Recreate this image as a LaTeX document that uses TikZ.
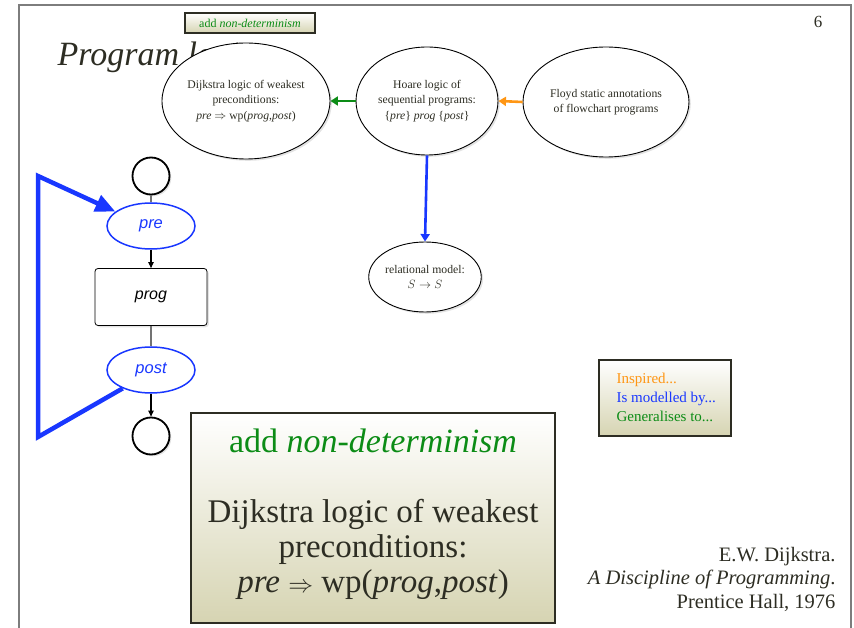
\documentclass[tikz,border=0pt]{standalone}
\usepackage{fontspec}
\setmainfont{Liberation Serif}
\setsansfont{Liberation Sans}
\usetikzlibrary{shapes.geometric,arrows.meta,shadows}

\definecolor{inkblue}{RGB}{25,55,255}
\definecolor{inkgreen}{RGB}{12,140,22}
\definecolor{inkorange}{RGB}{255,150,20}
\definecolor{olive}{RGB}{45,45,35}
\definecolor{beige}{RGB}{214,212,178}
\definecolor{framegray}{RGB}{125,125,125}

\tikzset{
  softshadow/.style={drop shadow={opacity=0.22, shadow xshift=1.8pt, shadow yshift=-1.8pt}},
  bubble/.style={ellipse, draw=black, line width=0.9pt, fill=white, inner sep=0pt,
    align=center, font=\fontsize{11.7}{15.5}\selectfont, text=olive, softshadow},
  cond/.style={ellipse, draw=inkblue, line width=1.5pt, fill=white, inner sep=0pt,
    minimum width=88pt, minimum height=46pt, text=inkblue,
    font=\sffamily\itshape\fontsize{16.5}{18}\selectfont},
  terminal/.style={circle, draw=black, line width=1.8pt, fill=white, minimum size=37pt,
    inner sep=0pt, softshadow},
  notebox/.style={rectangle, draw=olive, line width=2pt, top color=white, bottom color=beige,
    inner sep=0pt},
  relation/.style={line width=2.6pt, -{Triangle[length=7.5pt,width=9pt]}},
  flowline/.style={line width=1.2pt, draw=black!55},
  flowarrow/.style={line width=1.1pt, draw=black, -{Triangle[length=6pt,width=5.5pt]}},
}

\begin{document}
\begin{tikzpicture}[x=1pt,y=-1pt]
\useasboundingbox (0,0) rectangle (854,628);

% slide frame, open at the bottom
\draw[framegray, line width=1.5pt] (19,628) -- (19,5) -- (851,5) -- (851,628);

% page number and title
\node[anchor=base, font=\fontsize{17}{17}\selectfont, text=olive] (pagenum) at (818,28) {6};
\node[anchor=base west, font=\fontsize{34}{34}\selectfont\itshape, text=olive] (title) at (54,66) {Program logic};

% small caption box
\node[notebox, minimum width=130pt, minimum height=20pt, text=inkgreen,
      font=\fontsize{12}{12}\selectfont] (caption) at (250,23) {add \textit{non-determinism}};

% the logics
\node[bubble, minimum width=168pt, minimum height=116pt] (dijk) at (246,101)
  {Dijkstra logic of weakest\\ preconditions:\\ \textit{pre} $\Rightarrow$ wp(\textit{prog},\textit{post})};
\node[bubble, minimum width=142pt, minimum height=108pt] (hoare) at (427,101)
  {Hoare logic of\\ sequential programs:\\ \{\textit{pre}\} \textit{prog} \{\textit{post}\}};
\node[bubble, minimum width=166pt, minimum height=110pt] (floyd) at (606,102)
  {Floyd static annotations\\ of flowchart programs};
\node[bubble, minimum width=106pt, minimum height=70pt] (rel) at (425,277)
  {relational model:\\ $S\rightarrow S$};

\draw[relation, inkgreen] (hoare.west) -- (dijk.east);
\draw[relation, inkorange] (floyd.west) -- (hoare.east);
\draw[relation, inkblue] (hoare.south) -- (rel.north);

% flowchart
\node[terminal] (start) at (151,176) {};
\node[cond] (pre) at (151,226) {pre};
\node[rectangle, rounded corners=3pt, draw=black, line width=0.8pt, fill=white,
      minimum width=112pt, minimum height=57pt, softshadow,
      font=\sffamily\itshape\fontsize{16}{18}\selectfont] (prog) at (151,297) {prog};
\node[cond] (post) at (151,370) {post};
\node[terminal] (stop) at (151,436) {};

\draw[flowline] (start) -- (pre);
\draw[flowarrow] (pre) -- (prog);
\draw[flowline] (prog) -- (post);
\draw[flowarrow] (post) -- (stop);

% feedback from post to pre
\coordinate (loopbot) at (38,437);
\coordinate (looptop) at (38,176);
\draw[inkblue, line width=4.5pt, miter limit=20,
      -{Triangle[length=20pt,width=17pt]}]
  (post.213) -- (loopbot) -- (looptop) -- (pre.158);

% legend
\node[notebox, minimum width=132pt, minimum height=76pt] (legend) at (665,398) {};
\node[anchor=west, align=left, font=\fontsize{15}{19}\selectfont] (legendtext) at (613,397)
  {\textcolor{inkorange}{Inspired...}\\ \textcolor{inkblue}{Is modelled by...}\\ \textcolor{inkgreen}{Generalises to...}};

% enlarged caption
\node[notebox, minimum width=364pt, minimum height=210pt] (bigbox) at (373,518) {};
\node[anchor=base, text=inkgreen, font=\fontsize{34}{34}\selectfont] (bighead) at (373,452)
  {add \textit{non-determinism}};
\node[align=center, text=olive, font=\fontsize{33}{35}\selectfont] (bigbody) at (373,549)
  {Dijkstra logic of weakest\\ preconditions:\\ \textit{pre} $\Rightarrow$ wp(\textit{prog},\textit{post})};

% reference
\node[anchor=east, align=right, text=olive, font=\fontsize{20.5}{23.5}\selectfont] (cite) at (839,579)
  {E.W. Dijkstra.\\ \textit{A Discipline of Programming}.\\ Prentice Hall, 1976};
\end{tikzpicture}
\end{document}
